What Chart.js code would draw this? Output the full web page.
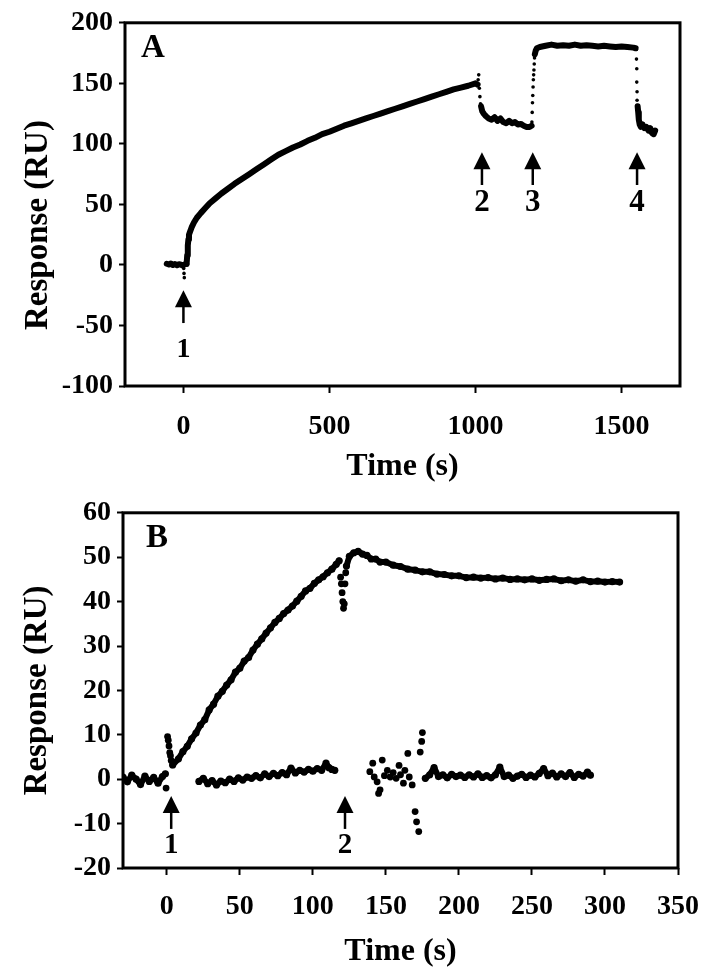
<!DOCTYPE html>
<html>
<head>
<meta charset="utf-8">
<script src="https://cdn.jsdelivr.net/npm/chart.js@4/dist/chart.umd.min.js"></script>
<style>
  html, body { margin: 0; padding: 0; background: #fff; }
  .panel { position: absolute; left: 0; width: 714px; height: 490px; }
</style>
</head>
<body>
<div class="panel" style="top:0"><canvas id="chartA" width="714" height="490"></canvas></div>
<div class="panel" style="top:490px"><canvas id="chartB" width="714" height="490"></canvas></div>
<script>
// ---- panel A (time in s, response in RU) ----
const tickTimesA = [0, 500, 1000, 1500]

const baseTimeA = [-57, -50, -43, -36, -29, -22, -15, -8, -2, 4, 10]
const baseRespA = [1, 0.4, 1.2, 0, 0.8, -0.3, 0.6, 0.2, -0.5, 0.4, 0.8]

const injDotTimeA = [1, 2, 3]
const injDotRespA = [-3, -7, -10.5]

const assocTimeA = [11, 13, 15, 17, 19, 22, 28, 36, 46, 60, 75, 90, 110, 130, 150, 175, 200, 225, 250, 275, 300,
  325, 350, 375, 400, 425, 450, 475, 500, 525, 550, 575, 600, 625, 650, 675, 700, 725, 750, 775, 800,
  825, 850, 875, 900, 925, 950, 975, 1000, 1007]
const assocRespA = [1, 8, 16, 21, 25, 27, 31, 35, 39, 43, 47, 51, 55, 59, 62.5, 67, 71, 75, 79, 83, 87,
  91, 94, 97, 99.5, 102.5, 105, 108, 110, 112.5, 115, 117, 119, 121, 123, 125, 127, 129, 131, 133, 135,
  137, 139, 141, 143, 145, 146.5, 148, 150, 149]

const spikeTimeA = [1009, 1011, 1013, 1015, 1017]
const spikeRespA = [153, 157, 146, 139, 133]

const dissTimeA = [1019, 1023, 1028, 1035, 1045, 1055, 1065, 1075, 1085, 1095, 1105, 1115, 1125, 1135,
  1145, 1155, 1165, 1175, 1185, 1192]
const dissRespA = [131, 127, 125, 123, 121, 120, 122, 119, 121, 118, 117, 119, 117, 118,
  116, 116.5, 115, 114, 114, 115]

const riseTimeA = [1193, 1194, 1195, 1196, 1197, 1198, 1199, 1200, 1201, 1202]
const riseRespA = [118, 126, 134, 140, 147, 153, 157, 161, 166, 171]

const plateauTimeA = [1203, 1206, 1210, 1220, 1240, 1260, 1280, 1300, 1320, 1340, 1360, 1380, 1400,
  1420, 1440, 1460, 1480, 1500, 1520, 1540, 1548]
const plateauRespA = [174, 177, 179, 180, 181, 182, 181, 181.5, 181, 182, 181, 181.5, 181,
  180.5, 181, 180.5, 180, 180.5, 180, 179.5, 179]

const dropTimeA = [1551, 1551, 1552, 1552, 1553, 1553]
const dropRespA = [178, 170, 162, 151, 143, 136]

const regenTimeA = [1555, 1557, 1559, 1562, 1566, 1572, 1578, 1585, 1592, 1598, 1604, 1610, 1615]
const regenRespA = [131, 126, 120, 116, 114, 116, 113, 114, 111, 113, 109, 108, 111]

const arrowTimeA = [0, 1022, 1196, 1553]
const arrowTipA = [-21, 93, 93, 93]
const arrowTailA = [-48, 66, 66, 66]
const arrowTextA = ['1', '2', '3', '4']
const arrowTextYA = [-70, 51, 51, 51]

// ---- panel B ----
const tickTimesB = [0, 50, 100, 150, 200, 250, 300, 350]

const baseTimeB = [-30, -27, -24, -21, -18, -15, -12, -9, -6, -3, -1]
const baseRespB = [0.5, -0.6, 0.9, 0, -1.2, 0.7, -0.5, 0.4, -0.9, 0.6, 1.2]

const spikeTimeB = [-0.5, 0.5, 1, 1.5, 2, 2.5, 3]
const spikeRespB = [-2, 9.6, 8.8, 7.5, 6, 5.3, 4.2]

const assocTimeB = [4, 8, 11, 14, 17, 20, 23, 26, 29, 32, 35, 38, 41, 44, 47, 50, 53, 56, 59, 62, 65, 68,
  71, 74, 77, 80, 83, 86, 89, 92, 95, 98, 101, 104, 107, 110, 113, 116, 118]
const assocRespB = [3.2, 4.6, 6.2, 7.4, 9.1, 10.4, 12.2, 13.4, 15.6, 16.9, 18.7, 19.8, 21.2, 22.4, 24.1, 25.0,
  26.6, 27.4, 29.1, 30.4, 31.6, 32.9, 34.1, 35.3, 36.2, 37.3, 38.1, 39.0, 40.1, 41.2, 42.4, 43.0, 44.1,
  44.9, 45.6, 46.5, 47.3, 48.4, 49.2]

const dipTimeB = [119, 119.5, 120, 120.5, 121, 121.5, 122, 122.5]
const dipRespB = [45.5, 44, 42, 40, 38.5, 39.5, 44, 46.5]

const dissTimeB = [123, 125, 128, 131, 134, 137, 140, 143, 146, 150, 155, 160, 165, 170, 175, 180, 185,
  190, 195, 200, 205, 210, 215, 220, 225, 230, 235, 240, 245, 250, 255, 260, 265, 270, 275, 280,
  285, 290, 295, 300, 305, 310]
const dissRespB = [48, 50.2, 51, 51.3, 50.7, 50.4, 49.6, 49.6, 48.9, 48.9, 48.2, 47.9, 47.3, 47.1, 46.7, 46.7, 46.2,
  46.1, 45.8, 45.8, 45.4, 45.5, 45.3, 45.4, 45.1, 45.3, 45.0, 45.1, 44.9, 45.1, 44.8, 45.0, 45.1, 44.7, 44.9, 44.6,
  44.9, 44.5, 44.6, 44.4, 44.5, 44.4]

const refTimeB = [22, 25, 28, 31, 34, 37, 40, 43, 46, 49, 52, 55, 58, 61, 64, 67, 70, 73, 76, 79, 82, 85,
  88, 91, 94, 97, 100, 103, 106, 109, 111, 113, 115]
const refRespB = [-0.5, 0.2, -1, -0.3, -1.3, -0.4, -0.8, 0, -0.5, 0.3, -0.2, 0.5, 0.2, 0.8, 0.3, 1.2, 0.6,
  1.3, 0.8, 1.5, 1, 2.5, 1.4, 2, 1.6, 2.2, 1.8, 2.4, 2, 3.6, 2.6, 2.2, 2]

const messTimeB = [139, 141, 142, 144, 145, 146, 147.5, 149, 151, 153, 155, 157, 159, 160, 162, 163, 165,
  166, 168, 170, 171, 172.5, 173.5, 174.5, 175]
const messRespB = [1.7, 3.6, 0.5, -0.6, -3.2, -2.4, 4.3, 0.8, 2, 0.5, 1.5, 0.2, 3.1, 1, -0.9, 2, 5.8,
  0.5, -1.3, -7.3, -9.6, -11.8, 6.1, 8.5, 10.5]

const refTailTimeB = [177, 180, 183, 186, 189, 192, 195, 198, 201, 204, 207, 210, 213, 216, 219, 222, 225,
  228, 231, 234, 237, 240, 243, 246, 249, 252, 255, 258, 261, 264, 267, 270, 273, 276, 279, 282, 285, 288, 290]
const refTailRespB = [0.2, 1.0, 2.6, 0.6, 1.0, 0.3, 1.1, 0.6, 0.9, 0.4, 1.0, 0.5, 1.2, 0.4, 0.8, 0.3, 1.0,
  2.7, 0.6, 0.9, 0.2, 0.7, 1.1, 0.4, 0.9, 0.5, 1.3, 2.4, 0.8, 1.4, 0.5, 1.2, 0.6, 1.5, 0.4, 1.1, 0.7, 1.6, 0.9]

const arrowTimeB = [3, 122]
const arrowTipB = [-3.8, -3.8]
const arrowTailB = [-11.2, -11.2]
const arrowTextB = ['1', '2']
const arrowTextYB = [-15, -15]

const SERIF = '"Liberation Serif", "Times New Roman", serif'

const zip = (xs, ys) => xs.map((x, i) => ({ x, y: ys[i] }))

const lineSet = (xs, ys, width, radius) => ({
    data: zip(xs, ys),
    showLine: true,
    borderColor: '#000',
    backgroundColor: '#000',
    borderWidth: width,
    borderJoinStyle: 'round',
    borderCapStyle: 'round',
    pointRadius: radius,
    pointBorderWidth: 0,
    tension: 0
})

const dotSet = (xs, ys, radius) => ({
    data: zip(xs, ys),
    showLine: false,
    backgroundColor: '#000',
    borderColor: '#000',
    pointRadius: radius,
    pointBorderWidth: 0
})

// frame, panel letter and injection arrows
const notesPlugin = {
    id: 'notes',
    afterDraw(chart, args, opts) {
        const { ctx, chartArea: area, scales: { x, y } } = chart
        ctx.save()
        ctx.strokeStyle = '#000'
        ctx.fillStyle = '#000'
        ctx.lineWidth = 3
        ctx.strokeRect(area.left, area.top, area.right - area.left, area.bottom - area.top)

        ctx.textAlign = 'center'
        ctx.textBaseline = 'middle'
        ctx.font = `bold 33px ${SERIF}`
        ctx.fillText(opts.letter, area.left + opts.letterDx, area.top + opts.letterDy)

        opts.times.forEach((t, i) => {
            const px = x.getPixelForValue(t)
            const tip = y.getPixelForValue(opts.tips[i])
            const tail = y.getPixelForValue(opts.tails[i])
            ctx.beginPath()
            ctx.moveTo(px, tip)
            ctx.lineTo(px - 8.5, tip + 17)
            ctx.lineTo(px + 8.5, tip + 17)
            ctx.closePath()
            ctx.fill()
            ctx.lineWidth = 2.5
            ctx.beginPath()
            ctx.moveTo(px, tip + 12)
            ctx.lineTo(px, tail)
            ctx.stroke()
            ctx.font = `bold ${opts.sizes[i]}px ${SERIF}`
            ctx.fillText(opts.texts[i], px, y.getPixelForValue(opts.textY[i]))
        })
        ctx.restore()
    }
}

const tickStyle = (padding) => ({
    color: '#000',
    padding,
    font: { family: SERIF, size: 28, weight: 'bold' },
    callback: (v) => String(v)
})

const gridStyle = (len) => ({
    drawOnChartArea: false,
    drawTicks: true,
    tickLength: len,
    tickWidth: 2,
    tickColor: '#000'
})

const titleStyle = (text, size, padding) => ({
    display: true,
    text,
    color: '#000',
    padding,
    font: { family: SERIF, size, weight: 'bold' }
})

new Chart(document.getElementById('chartA'), {
    type: 'scatter',
    data: {
        datasets: [
            lineSet(baseTimeA, baseRespA, 6, 0),
            dotSet(injDotTimeA, injDotRespA, 1.8),
            lineSet(assocTimeA, assocRespA, 6, 0),
            dotSet(spikeTimeA, spikeRespA, 1.8),
            lineSet(dissTimeA, dissRespA, 6, 0),
            dotSet(riseTimeA, riseRespA, 1.8),
            lineSet(plateauTimeA, plateauRespA, 6, 0),
            dotSet(dropTimeA, dropRespA, 1.8),
            lineSet(regenTimeA, regenRespA, 6, 0)
        ]
    },
    options: {
        responsive: false,
        animation: false,
        layout: { padding: { left: 0, right: 34, top: 20, bottom: 0 } },
        plugins: {
            legend: { display: false },
            tooltip: { enabled: false },
            notes: {
                letter: 'A', letterDx: 28, letterDy: 26,
                times: arrowTimeA, tips: arrowTipA, tails: arrowTailA,
                texts: arrowTextA, textY: arrowTextYA, sizes: [28, 31, 31, 31]
            }
        },
        scales: {
            x: {
                type: 'linear',
                min: -200,
                max: 1700,
                afterFit: (s) => { s.height = 104 },
                afterBuildTicks: (s) => { s.ticks = tickTimesA.map(v => ({ value: v })) },
                grid: gridStyle(7),
                border: { display: false },
                ticks: tickStyle(17),
                title: titleStyle('Time (s)', 32, { top: 0, bottom: 4 })
            },
            y: {
                min: -100,
                max: 200,
                afterFit: (s) => { s.width = 125 },
                grid: gridStyle(6),
                border: { display: false },
                ticks: { ...tickStyle(6), stepSize: 50 },
                title: titleStyle('Response (RU)\u00a0\u00a0\u00a0\u00a0\u00a0', 33, { top: 19, bottom: 0 })
            }
        }
    },
    plugins: [notesPlugin]
})

new Chart(document.getElementById('chartB'), {
    type: 'scatter',
    data: {
        datasets: [
            lineSet(baseTimeB, baseRespB, 6, 3.6),
            dotSet(spikeTimeB, spikeRespB, 3.4),
            lineSet(assocTimeB, assocRespB, 6, 3.6),
            dotSet(dipTimeB, dipRespB, 3.4),
            lineSet(dissTimeB, dissRespB, 6, 3.6),
            lineSet(refTimeB, refRespB, 6, 3.6),
            dotSet(messTimeB, messRespB, 3.4),
            lineSet(refTailTimeB, refTailRespB, 6, 3.6)
        ]
    },
    options: {
        responsive: false,
        animation: false,
        layout: { padding: { left: 0, right: 35, top: 22, bottom: 0 } },
        plugins: {
            legend: { display: false },
            tooltip: { enabled: false },
            notes: {
                letter: 'B', letterDx: 34, letterDy: 26,
                times: arrowTimeB, tips: arrowTipB, tails: arrowTailB,
                texts: arrowTextB, textY: arrowTextYB, sizes: [29, 29]
            }
        },
        scales: {
            x: {
                type: 'linear',
                min: -30,
                max: 350,
                afterFit: (s) => { s.height = 112 },
                afterBuildTicks: (s) => { s.ticks = tickTimesB.map(v => ({ value: v })) },
                grid: gridStyle(7),
                border: { display: false },
                ticks: tickStyle(15),
                title: titleStyle('Time (s)', 32, { top: 0, bottom: 9 })
            },
            y: {
                min: -20,
                max: 60,
                afterFit: (s) => { s.width = 123 },
                grid: gridStyle(6),
                border: { display: false },
                ticks: { ...tickStyle(6), stepSize: 10 },
                title: titleStyle('Response (RU)', 33, { top: 18, bottom: 0 })
            }
        }
    },
    plugins: [notesPlugin]
})
</script>
</body>
</html>
